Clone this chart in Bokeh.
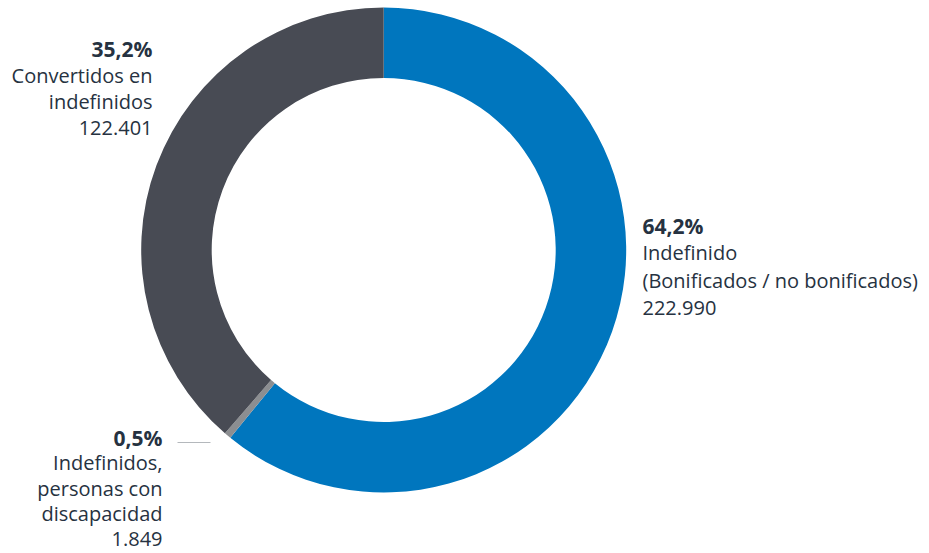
from bokeh.plotting import figure
from bokeh.models import Range1d, ColumnDataSource
from bokeh.core.properties import value
from bokeh.embed import file_html
from bokeh.resources import INLINE
import numpy as np

# --- data ---
categories = ["Indefinido (Bonificados / no bonificados)",
              "Indefinidos, personas con discapacidad",
              "Convertidos en indefinidos"]
counts = [222990, 1849, 122401]
percent_labels = ["64,2%", "0,5%", "35,2%"]
count_labels = ["222.990", "1.849", "122.401"]
# arc shares (percent of the ring) as drawn in the picture
arc_shares = [60.9, 0.46, 38.64]
colors = ["#0076BE", "#8C8E91", "#484B54"]

W, H = 929, 553
p = figure(width=W, height=H, output_backend="svg", toolbar_location=None,
           x_range=Range1d(0, W), y_range=Range1d(0, H), min_border=0)
p.axis.visible = False
p.grid.visible = False
p.outline_line_color = None
p.background_fill_color = "white"
p.border_fill_color = "white"

def px(x):
    return x

def py(y):
    return H - y

cx, cy = px(383.2), py(249.5)
shares = np.array(arc_shares) / sum(arc_shares)
cum = np.concatenate([[0], np.cumsum(shares)])
start = np.pi / 2 - 2 * np.pi * cum[:-1]
end = np.pi / 2 - 2 * np.pi * cum[1:]
src = ColumnDataSource(dict(start=start, end=end, color=colors))
p.annular_wedge(x=cx, y=cy, inner_radius=172, outer_radius=242.5,
                start_angle="start", end_angle="end", direction="clock",
                color="color", line_color=None, source=src)

# leader line for small slice
p.line(x=[px(177), px(210)], y=[py(442), py(442)], line_color="#B4B8BC", line_width=1)

font = value("Open Sans")
txt_color = "#263241"

def block(x, ys, lines, align):
    for i, (yy, t) in enumerate(zip(ys, lines)):
        p.text(x=[px(x)], y=[py(yy)], text=[t], text_align=align,
               text_baseline="middle", text_font=font,
               text_font_size="21px" if i == 0 else "20px",
               text_color=txt_color,
               text_font_style="bold" if i == 0 else "normal")

block(152, [48, 75, 101, 127],
      [percent_labels[2], "Convertidos en", "indefinidos", count_labels[2]], "right")
block(642, [225, 252, 280, 307],
      [percent_labels[0], "Indefinido", "(Bonificados / no bonificados)", count_labels[0]], "left")
block(162, [437, 462, 488, 513, 538],
      [percent_labels[1], "Indefinidos,", "personas con", "discapacidad", count_labels[1]], "right")

open("out.html", "w").write(file_html(p, INLINE))
